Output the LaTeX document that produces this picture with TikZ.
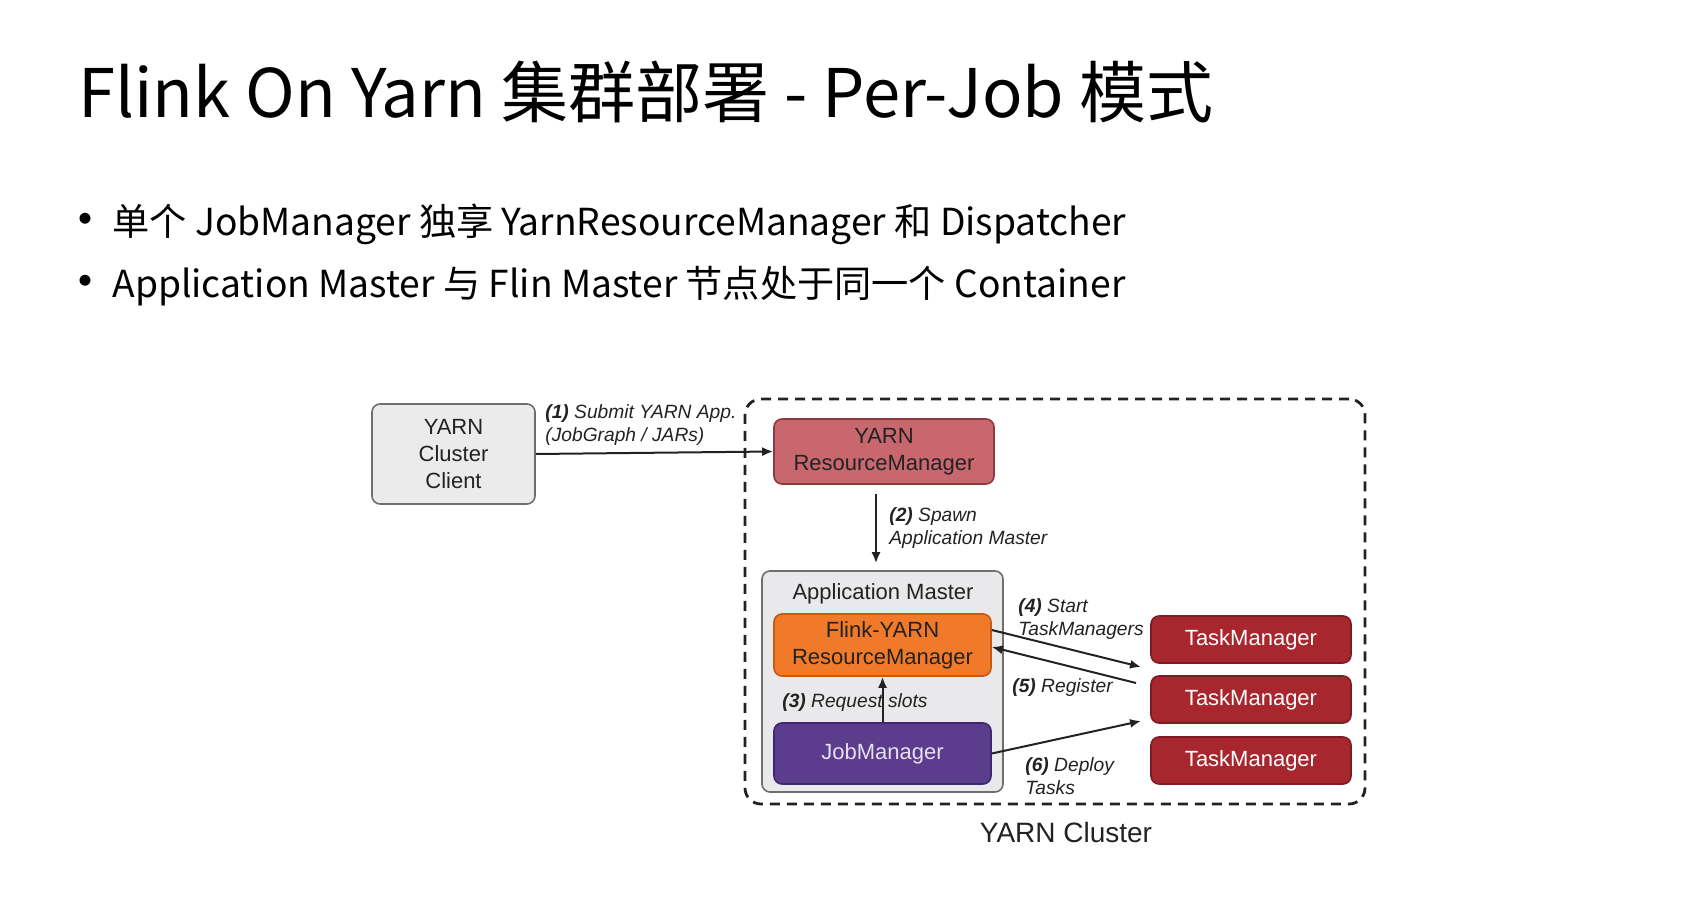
\documentclass[tikz,border=0pt]{standalone}
\usepackage{fontspec}
\usetikzlibrary{arrows.meta}
\setmainfont{Liberation Sans}
\newfontfamily\cjk{Noto Sans CJK SC}
\definecolor{boxline}{HTML}{6E6E6E}
\definecolor{clientfill}{HTML}{EBEBEB}
\definecolor{amfill}{HTML}{E9E9EB}
\definecolor{rmfill}{HTML}{C9676F}
\definecolor{rmline}{HTML}{8C3A40}
\definecolor{frmfill}{HTML}{F07A2A}
\definecolor{frmline}{HTML}{C45A14}
\definecolor{jmfill}{HTML}{5B3C8D}
\definecolor{jmline}{HTML}{3E2870}
\definecolor{jmtext}{HTML}{E6E0F0}
\definecolor{tmfill}{HTML}{A8272E}
\definecolor{tmline}{HTML}{7D1C22}
\definecolor{ink}{HTML}{222222}
\begin{document}
\begin{tikzpicture}[x=0.5pt,y=0.5pt,
    box/.style={draw, rounded corners=4pt, line width=0.8pt, inner sep=2pt, align=center, text=ink, font=\fontsize{11}{13.5}\selectfont},
    tmbox/.style={box, draw=tmline, fill=tmfill, text=white, minimum width=100pt, minimum height=23.5pt},
    lbl/.style={anchor=west, inner sep=0pt, align=left, text=ink, font=\fontsize{9.6}{11.5}\selectfont\itshape},
    bullet/.style={anchor=base west, inner sep=0pt, font=\cjk\fontsize{18.6}{22}\selectfont},
    dot/.style={anchor=base, inner sep=0pt, font=\cjk\fontsize{26}{30}\selectfont},
    flow/.style={-{Latex[length=5.5pt,width=4.5pt]}, line width=1pt, draw=ink}]
    \useasboundingbox (0,0) rectangle (1686,-908);
    \node[anchor=base west, inner sep=0pt, font=\cjk\fontsize{33.5}{40}\selectfont] (title) at (78,-118) {Flink On Yarn 集群部署 - Per-Job 模式};
    \node[dot] (dot1) at (85,-239) {•};
    \node[bullet] (b1) at (112,-236) {单个 JobManager 独享 YarnResourceManager 和 Dispatcher};
    \node[dot] (dot2) at (85,-301) {•};
    \node[bullet] (b2) at (112,-298) {Application Master 与 Flin Master 节点处于同一个 Container};
    \node[draw=ink, dashed, dash pattern=on 5pt off 3.5pt, rounded corners=8pt, line width=1.4pt, minimum width=310pt, minimum height=202.5pt] (cluster) at (1055,-601.5) {};
    \node[text=ink, font=\fontsize{14}{16}\selectfont] (clustername) at (1066,-832) {YARN Cluster};
    \node[box, fill=clientfill, draw=boxline, minimum width=81.5pt, minimum height=50pt] (client) at (453.5,-454) {YARN\\Cluster\\Client};
    \node[box, fill=rmfill, draw=rmline, minimum width=110pt, minimum height=32.5pt] (yrm) at (884,-451.5) {YARN\\ResourceManager};
    \node[box, fill=amfill, draw=boxline, minimum width=120.5pt, minimum height=110.5pt] (am) at (882.5,-681.5) {};
    \node[text=ink, font=\fontsize{11}{13.5}\selectfont] (amtitle) at (883,-594) {Application Master};
    \node[box, fill=frmfill, draw=frmline, minimum width=108.5pt, minimum height=31pt] (frm) at (882.5,-645) {Flink-YARN\\ResourceManager};
    \node[box, fill=jmfill, draw=jmline, text=jmtext, minimum width=108.5pt, minimum height=30.5pt] (jm) at (882.5,-753.5) {JobManager};
    \node[tmbox] (tm1) at (1251,-639.5) {TaskManager};
    \node[tmbox] (tm2) at (1251,-699.5) {TaskManager};
    \node[tmbox] (tm3) at (1251,-760.5) {TaskManager};
    \node[lbl] (l1) at (545,-425.5) {\textbf{(1)} Submit YARN App.\\(JobGraph / JARs)};
    \node[lbl] (l2) at (889,-528.5) {\textbf{(2)} Spawn\\Application Master};
    \node[lbl] (l3) at (782,-703) {\textbf{(3)} Request slots};
    \node[lbl] (l4) at (1018,-619.5) {\textbf{(4)} Start\\TaskManagers};
    \node[lbl] (l5) at (1012,-688) {\textbf{(5)} Register};
    \node[lbl] (l6) at (1025,-776) {\textbf{(6)} Deploy\\Tasks};
    \coordinate (in4) at (1141,-667);
    \coordinate (out5) at (1136,-683);
    \coordinate (in6) at (1141,-721);
    \draw[flow] (client.east) -- (yrm.west);
    \draw[flow, shorten <=4.5pt, shorten >=3.5pt] ([xshift=-4pt]yrm.south) -- ([xshift=-4pt]yrm.south |- am.north);
    \draw[flow] (jm.north) -- (frm.south);
    \draw[flow] ([yshift=7.5pt]frm.east) -- (in4);
    \draw[flow] (out5) -- ([yshift=-1pt]frm.east);
    \draw[flow] (jm.east) -- (in6);
\end{tikzpicture}
\end{document}
